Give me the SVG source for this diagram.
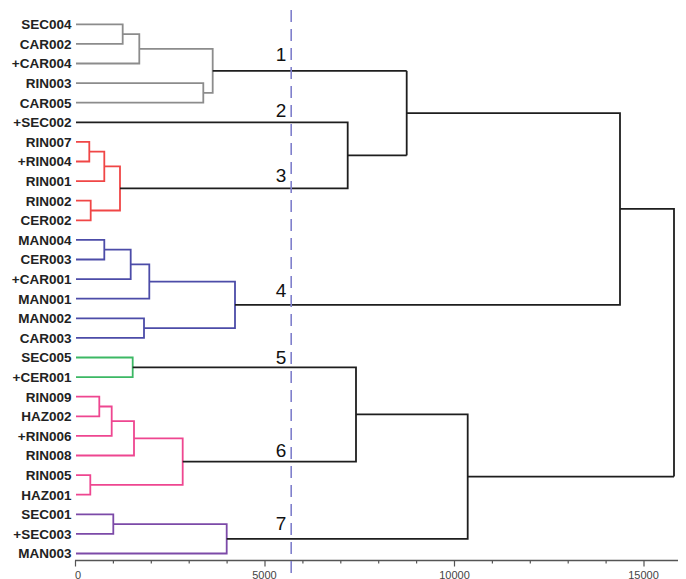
<svg xmlns="http://www.w3.org/2000/svg" width="686" height="579" viewBox="0 0 686 579">
<style>
.lbl{font-family:"Liberation Sans",Arial,sans-serif;font-weight:bold;font-size:13.5px;fill:#222;text-anchor:end}
.num{font-family:"Liberation Sans",Arial,sans-serif;font-size:19px;fill:#111;text-anchor:middle}
.ax{font-family:"Liberation Sans",Arial,sans-serif;font-size:11px;fill:#444;text-anchor:middle}
.br{fill:none;stroke-width:1.8;stroke-linejoin:miter}
.k{stroke:#1e1e1e}
.g{stroke:#8c8c8c}
.r{stroke:#f04646}
.b{stroke:#4c4ca8}
.gr{stroke:#3cb864}
.p{stroke:#ee4690}
.pu{stroke:#7c4aa8}
.tick{stroke:#555;stroke-width:1.2}
</style>
<rect width="686" height="579" fill="#fff"/>
<g id="connectors">
<g class="br g">
<path d="M76 24.3H122.7V43.9H76"/>
<path d="M122.7 34.1H139.3V63.5H76"/>
<path d="M76 83.1H203.3V102.7H76"/>
<path d="M139.3 48.8H212.7V92.9H203.3"/>
</g>
<g class="br r">
<path d="M76 141.9H89.3V161.5H76"/>
<path d="M89.3 151.7H104.3V181.1H76"/>
<path d="M76 200.7H90.7V220.3H76"/>
<path d="M104.3 166.4H120V210.5H90.7"/>
</g>
<g class="br b">
<path d="M76 239.9H104.3V259.5H76"/>
<path d="M104.3 249.7H130.7V279.1H76"/>
<path d="M130.7 264.4H149.3V298.7H76"/>
<path d="M76 318.3H144V337.9H76"/>
<path d="M149.3 281.55H235V328.1H144"/>
</g>
<g class="br gr">
<path d="M76 357.5H132.7V377.1H76"/>
</g>
<g class="br p">
<path d="M76 396.7H99.3V416.3H76"/>
<path d="M99.3 406.5H111.7V435.9H76"/>
<path d="M111.7 421.2H134V455.5H76"/>
<path d="M76 475.1H90.3V494.7H76"/>
<path d="M134 438.35H182.7V484.9H90.3"/>
</g>
<g class="br pu">
<path d="M76 514.3H113.3V533.9H76"/>
<path d="M113.3 524.1H226.7V553.5H76"/>
</g>
<g class="br k">
<path d="M212.7 70.85H406.7"/>
<path d="M76 122.3H347.7V188.45H120"/>
<path d="M347.7 155.4H406.7"/>
<path d="M406.7 70.85V155.4"/>
<path d="M406.7 113.1H620V304.8H235"/>
<path d="M620 208.95H674V476.6"/>
<path d="M132.7 367.3H356V461.6H182.7"/>
<path d="M356 414.45H467.7V538.8H226.7"/>
<path d="M467.7 476.6H674"/>
</g>
</g>
<g id="axis">
<path d="M75 560.5H678" stroke="#555" stroke-width="1.3" fill="none"/>
<path class="tick" d="M75.5 560.5V566.5M265 560.5V566.5M454.5 560.5V566.5M644 560.5V566.5"/>
<path class="tick" d="M113.4 560.5V563.5M151.3 560.5V563.5M189.2 560.5V563.5M227.1 560.5V563.5M302.9 560.5V563.5M340.8 560.5V563.5M378.7 560.5V563.5M416.6 560.5V563.5M492.4 560.5V563.5M530.3 560.5V563.5M568.2 560.5V563.5M606.1 560.5V563.5"/>
<text class="ax" x="78" y="578.5">0</text>
<text class="ax" x="264.5" y="578.5">5000</text>
<text class="ax" x="454.5" y="578.5">10000</text>
<text class="ax" x="643.5" y="578.5">15000</text>
</g>
<g id="cutline">
<path d="M291.2 10V579" stroke="#8080cc" stroke-width="1.6" stroke-dasharray="12 7" fill="none"/>
</g>
<g id="leaves">
<g id="SEC004"><text class="lbl" x="71.5" y="29.1">SEC004</text></g>
<g id="CAR002"><text class="lbl" x="71.5" y="48.7">CAR002</text></g>
<g id="CAR004"><text class="lbl" x="71.5" y="68.3">+CAR004</text></g>
<g id="RIN003"><text class="lbl" x="71.5" y="87.9">RIN003</text></g>
<g id="CAR005"><text class="lbl" x="71.5" y="107.5">CAR005</text></g>
<g id="SEC002"><text class="lbl" x="71.5" y="127.1">+SEC002</text></g>
<g id="RIN007"><text class="lbl" x="71.5" y="146.7">RIN007</text></g>
<g id="RIN004"><text class="lbl" x="71.5" y="166.3">+RIN004</text></g>
<g id="RIN001"><text class="lbl" x="71.5" y="185.9">RIN001</text></g>
<g id="RIN002"><text class="lbl" x="71.5" y="205.5">RIN002</text></g>
<g id="CER002"><text class="lbl" x="71.5" y="225.1">CER002</text></g>
<g id="MAN004"><text class="lbl" x="71.5" y="244.7">MAN004</text></g>
<g id="CER003"><text class="lbl" x="71.5" y="264.3">CER003</text></g>
<g id="CAR001"><text class="lbl" x="71.5" y="283.9">+CAR001</text></g>
<g id="MAN001"><text class="lbl" x="71.5" y="303.5">MAN001</text></g>
<g id="MAN002"><text class="lbl" x="71.5" y="323.1">MAN002</text></g>
<g id="CAR003"><text class="lbl" x="71.5" y="342.7">CAR003</text></g>
<g id="SEC005"><text class="lbl" x="71.5" y="362.3">SEC005</text></g>
<g id="CER001"><text class="lbl" x="71.5" y="381.9">+CER001</text></g>
<g id="RIN009"><text class="lbl" x="71.5" y="401.5">RIN009</text></g>
<g id="HAZ002"><text class="lbl" x="71.5" y="421.1">HAZ002</text></g>
<g id="RIN006"><text class="lbl" x="71.5" y="440.7">+RIN006</text></g>
<g id="RIN008"><text class="lbl" x="71.5" y="460.3">RIN008</text></g>
<g id="RIN005"><text class="lbl" x="71.5" y="479.9">RIN005</text></g>
<g id="HAZ001"><text class="lbl" x="71.5" y="499.5">HAZ001</text></g>
<g id="SEC001"><text class="lbl" x="71.5" y="519.1">SEC001</text></g>
<g id="SEC003"><text class="lbl" x="71.5" y="538.7">+SEC003</text></g>
<g id="MAN003"><text class="lbl" x="71.5" y="558.3">MAN003</text></g>
</g>
<g id="clusters">
<g id="c1"><text class="num" x="281" y="61">1</text></g>
<g id="c2"><text class="num" x="281" y="117">2</text></g>
<g id="c3"><text class="num" x="281" y="182">3</text></g>
<g id="c4"><text class="num" x="281" y="297">4</text></g>
<g id="c5"><text class="num" x="281" y="364">5</text></g>
<g id="c6"><text class="num" x="281" y="457">6</text></g>
<g id="c7"><text class="num" x="281" y="530">7</text></g>
</g>
</svg>
